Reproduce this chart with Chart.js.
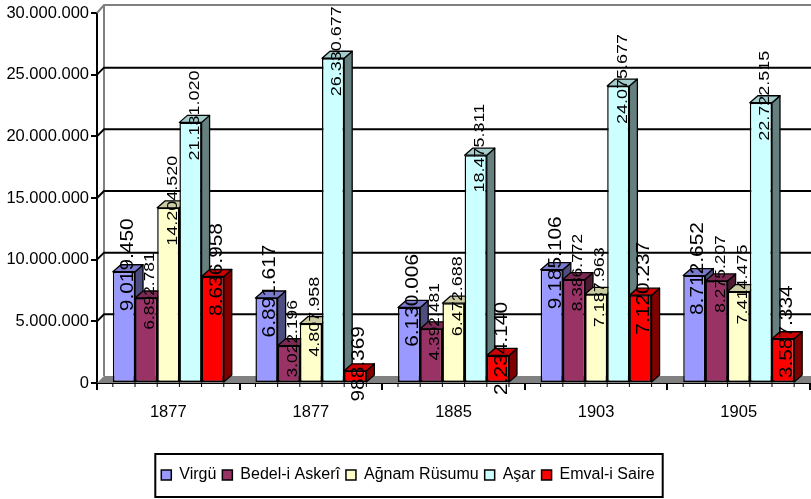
<!DOCTYPE html>
<html lang="tr">
<head>
<meta charset="utf-8">
<title>Vergi gelirleri</title>
<script src="https://cdn.jsdelivr.net/npm/chart.js@4/dist/chart.umd.min.js"></script>
<style>
    html, body { margin: 0; padding: 0; background: #fff; }
    canvas { display: block; }
</style>
</head>
<body>
<canvas id="chart" width="811" height="499"></canvas>
<script>
// Data
const years = ['1877', '1877', '1885', '1903', '1905'];
const virgu = [9019450, 6891617, 6130006, 9185106, 8712652];
const bedel = [6892781, 3022196, 4392481, 8386772, 8275207];
const agnam = [14204520, 4807958, 6472688, 7187963, 7414475];
const asar = [21131020, 26330677, 18475311, 24075677, 22722515];
const emval = [8636958, 988369, 2234140, 7120237, 3587334];

const seriesNames = ['Virgü', 'Bedel-i Askerî', 'Ağnam Rüsumu', 'Aşar', 'Emval-i Saire'];
const seriesValues = [virgu, bedel, agnam, asar, emval];
const seriesColors = ['#9999ff', '#993366', '#ffffcc', '#ccffff', '#ff0000'];
const labelFontSizes = [18, 15, 15.5, 15.5, 18];

const DEPTH_X = 8;
const DEPTH_Y = 7;
const WALL_X = 7;
const WALL_Y = 7;

function fmt(n) {
    return n.toString().replace(/\B(?=(\d{3})+$)/g, '.');
}

function shade(hex, f) {
    const n = parseInt(hex.slice(1), 16);
    const r = Math.round((n >> 16 & 255) * f);
    const g = Math.round((n >> 8 & 255) * f);
    const b = Math.round((n & 255) * f);
    return `rgb(${r},${g},${b})`;
}

function poly(ctx, pts, fill, stroke, lw) {
    ctx.beginPath();
    pts.forEach((p, i) => i ? ctx.lineTo(p[0], p[1]) : ctx.moveTo(p[0], p[1]));
    ctx.closePath();
    if (fill) { ctx.fillStyle = fill; ctx.fill(); }
    if (stroke) { ctx.strokeStyle = stroke; ctx.lineWidth = lw; ctx.stroke(); }
}

// Back walls, floor and grid of the fake 3D box
function drawWalls(chart) {
    const ctx = chart.ctx, a = chart.chartArea, y = chart.scales.y;
    const right = chart.width;
    ctx.save();
    poly(ctx, [[a.left, a.bottom], [a.left + WALL_X, a.bottom - WALL_Y], [right, a.bottom - WALL_Y], [right, a.bottom]], '#808080');

    ctx.strokeStyle = '#808080';
    ctx.lineWidth = 2;
    ctx.beginPath();
    ctx.moveTo(a.left, a.top);
    ctx.lineTo(a.left + WALL_X, a.top - WALL_Y - 1);
    ctx.lineTo(right, a.top - WALL_Y - 1);
    ctx.moveTo(a.left + WALL_X, a.top - WALL_Y - 1);
    ctx.lineTo(a.left + WALL_X, a.bottom - WALL_Y);
    ctx.stroke();

    ctx.strokeStyle = '#000';
    y.ticks.forEach(t => {
        if (t.value === 0 || t.value === y.max) return;
        const py = y.getPixelForValue(t.value);
        ctx.beginPath();
        ctx.moveTo(a.left, py);
        ctx.lineTo(a.left + WALL_X, py - WALL_Y);
        ctx.lineTo(right, py - WALL_Y);
        ctx.stroke();
    });
    ctx.restore();
}

// Bars left to right, each with its side and top, front face by the library
function drawBars(chart) {
    const ctx = chart.ctx;
    seriesValues.forEach((vals, d) => {
        const meta = chart.getDatasetMeta(d);
        const color = seriesColors[d];
        meta.data.forEach(bar => {
            const l = bar.x - bar.width / 2, r = bar.x + bar.width / 2;
            const top = bar.y, base = bar.base;
            ctx.save();
            ctx.lineJoin = 'round';
            poly(ctx, [[r, top], [r + DEPTH_X, top - DEPTH_Y], [r + DEPTH_X, base - DEPTH_Y], [r, base]], shade(color, 0.5), '#000', 1.3);
            poly(ctx, [[l, top], [l + DEPTH_X, top - DEPTH_Y], [r + DEPTH_X, top - DEPTH_Y], [r, top]], shade(color, 0.8), '#000', 1.3);
            ctx.restore();
            bar.draw(ctx);
        });
    });
}

const box3d = {
    id: 'box3d',
    beforeDatasetsDraw(chart) {
        drawWalls(chart);
        drawBars(chart);
        return false;
    },
    afterDraw(chart) {
        const ctx = chart.ctx, a = chart.chartArea;
        ctx.save();

        // minor ticks under each bar
        ctx.strokeStyle = '#000';
        ctx.lineWidth = 1;
        seriesValues.forEach((vals, d) => {
            chart.getDatasetMeta(d).data.forEach(bar => {
                const xs = [bar.x - bar.width / 2];
                if (d === seriesValues.length - 1) xs.push(bar.x + bar.width / 2);
                xs.forEach(x => {
                    ctx.beginPath();
                    ctx.moveTo(x, a.bottom + 1);
                    ctx.lineTo(x, a.bottom + 4);
                    ctx.stroke();
                });
            });
        });

        // rotated value labels, on top of everything
        ctx.fillStyle = '#000';
        ctx.textAlign = 'center';
        ctx.textBaseline = 'middle';
        seriesValues.forEach((vals, d) => {
            ctx.font = labelFontSizes[d] + 'px "Liberation Sans"';
            chart.getDatasetMeta(d).data.forEach((bar, i) => {
                ctx.save();
                ctx.translate(bar.x + 4, bar.y - 7);
                ctx.rotate(-Math.PI / 2);
                ctx.scale(1.16, 1);
                ctx.fillText(fmt(vals[i]), 0, 0);
                ctx.restore();
            });
        });

        // frame round the legend
        const boxes = chart.legend.legendHitBoxes;
        const first = boxes[0], last = boxes[boxes.length - 1];
        const mid = first.top + first.height / 2;
        ctx.strokeStyle = '#000';
        ctx.lineWidth = 2;
        ctx.strokeRect(first.left - 6, mid - 21, last.left + last.width - first.left + 14, 43);
        ctx.restore();
    }
};

new Chart(document.getElementById('chart'), {
    type: 'bar',
    data: {
        labels: years,
        datasets: seriesNames.map((name, i) => ({
            label: name,
            data: seriesValues[i],
            backgroundColor: seriesColors[i],
            borderColor: '#000',
            borderWidth: 1.5,
            borderSkipped: false
        }))
    },
    options: {
        responsive: false,
        animation: false,
        layout: { padding: { top: 13, right: 1, bottom: 6, left: 6 } },
        categoryPercentage: 0.778,
        barPercentage: 1,
        plugins: {
            tooltip: { enabled: false },
            legend: {
                position: 'bottom',
                labels: {
                    boxWidth: 10,
                    boxHeight: 10,
                    padding: 6,
                    color: '#000',
                    font: { family: '"Liberation Sans"', size: 16 }
                }
            }
        },
        scales: {
            x: {
                afterFit(scale) { scale.height = 78; },
                border: { color: '#000', width: 2 },
                grid: { drawOnChartArea: false, color: '#000', lineWidth: 2, tickLength: 7 },
                ticks: { color: '#000', padding: 13, maxRotation: 0, font: { family: '"Liberation Sans"', size: 16.5 } }
            },
            y: {
                min: 0,
                max: 30000000,
                afterFit(scale) { scale.width = 91; },
                border: { color: '#000', width: 2 },
                grid: { drawOnChartArea: false, color: '#000', lineWidth: 2, tickLength: 6 },
                ticks: {
                    stepSize: 5000000,
                    color: '#000',
                    padding: 2,
                    font: { family: '"Liberation Sans"', size: 16.5 },
                    callback: v => fmt(v)
                }
            }
        }
    },
    plugins: [box3d]
});
</script>
</body>
</html>
